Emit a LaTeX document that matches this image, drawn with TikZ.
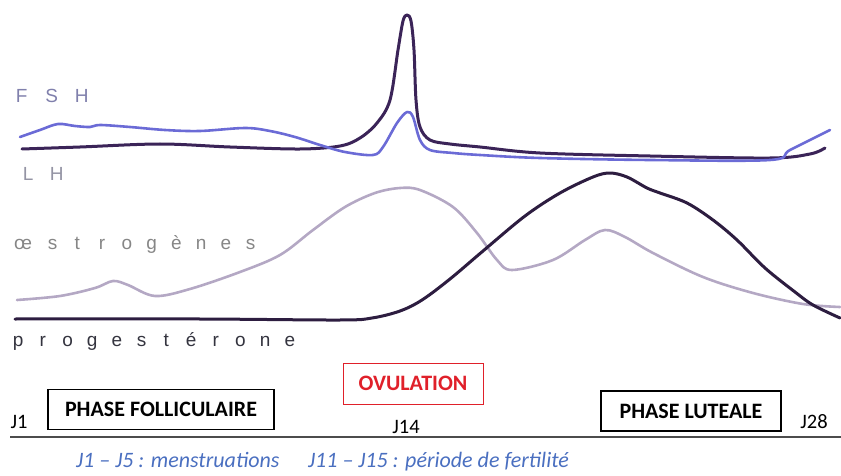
\documentclass[tikz,border=0pt]{standalone}
\usepackage{fontspec}
\setmainfont{Carlito}
\newfontfamily\labfont{Liberation Sans}
\definecolor{lhcol}{HTML}{3B2458}
\definecolor{fshcol}{HTML}{6B6BD6}
\definecolor{oecol}{HTML}{B4A8C4}
\definecolor{procol}{HTML}{2D1D40}
\definecolor{fshlab}{HTML}{8080AC}
\definecolor{lhlab}{HTML}{9494A4}
\definecolor{oelab}{HTML}{868686}
\definecolor{prolab}{HTML}{34343F}
\definecolor{ovred}{HTML}{E0202A}
\definecolor{noteblue}{HTML}{4A6FC0}
\newcommand\lb[2]{\makebox[#1pt][c]{#2}}
\begin{document}
\begin{tikzpicture}[x=1pt,y=-1pt,
  curve/.style={line join=round,line cap=round},
  hlabel/.style={inner sep=0pt,anchor=base west,font=\labfont\fontsize{19}{21}\selectfont},
  phasebox/.style={draw=black,line width=1.2pt,minimum height=40pt,inner sep=0pt,font=\bfseries\fontsize{22}{24}\selectfont},
  daylab/.style={inner sep=0pt,anchor=base,font=\fontsize{20.5}{24}\selectfont},
  note/.style={inner sep=0pt,anchor=base west,text=noteblue,font=\itshape\fontsize{22}{24}\selectfont}]
\useasboundingbox (0,0) rectangle (841,476);
% LH
\draw[curve,lhcol,line width=3pt] plot[smooth,tension=0.55] coordinates {
 (22,149) (80,147) (160,144) (230,147) (300,149) (340,146) (360,138) (377,123)
 (390,100) (398,50) (403,21) (407,15) (411,21) (414,50) (416,100) (420,127)
 (430,140) (450,144) (480,147) (540,153) (650,156) (770,158) (810,154) (825,148)};
% FSH
\draw[curve,fshcol,line width=2.6pt] plot[smooth,tension=0.55] coordinates {
 (20,137) (40,130) (58,124) (75,126) (90,127) (100,125) (130,127) (165,130)
 (200,131) (245,128) (270,131) (295,137) (320,145) (345,152) (373,155) (383,147)
 (397,123) (407,112) (413,117) (420,140) (430,150) (453,153) (480,155) (540,158)
 (650,160) (770,160) (790,150) (830,130)};
% oestrogenes
\draw[curve,oecol,line width=2.6pt] plot[smooth,tension=0.55] coordinates {
 (17,300) (60,296) (95,288) (113,281) (128,285) (155,296) (190,289) (240,272)
 (280,255) (313,230) (345,207) (375,193) (400,188) (420,190) (453,207) (477,233)
 (497,260) (512,270) (553,260) (585,240) (605,230) (625,237) (653,253) (703,277)
 (753,293) (803,304) (840,307)};
% progesterone
\draw[curve,procol,line width=3pt] plot[smooth,tension=0.55] coordinates {
 (15,319) (200,319) (340,320) (372,318) (400,311) (422,300) (450,279) (483,251)
 (525,216) (560,193) (593,177) (610,173) (627,177) (647,188) (660,193) (687,203)
 (713,220) (737,240) (765,268) (795,292) (813,305) (840,318)};
% hormone labels
\node[hlabel,text=fshlab] (fsh) at (6.5,103) {\lb{30}{F}\lb{30}{S}\lb{30}{H}};
\node[hlabel,text=lhlab] (lh) at (13.75,180) {\lb{28.5}{L}\lb{28.5}{H}};
\node[hlabel,text=oelab] (oe) at (6,249) {\lb{34}{œ}\lb{24.75}{s}\lb{24.75}{t}\lb{24.75}{r}\lb{24.75}{o}\lb{24.75}{g}\lb{24.75}{è}\lb{24.75}{n}\lb{24.75}{e}\lb{24.75}{s}};
\node[hlabel,text=prolab] (pro) at (5.65,346) {\lb{24.7}{p}\lb{24.7}{r}\lb{24.7}{o}\lb{24.7}{g}\lb{24.7}{e}\lb{24.7}{s}\lb{24.7}{t}\lb{24.7}{é}\lb{24.7}{r}\lb{24.7}{o}\lb{24.7}{n}\lb{24.7}{e}};
% axis
\draw[line width=1.8pt,black!70] (10,437) -- (841,437);
% boxes
\node[phasebox,minimum width=226pt] (fol) at (161,409.5) {PHASE FOLLICULAIRE};
\node[phasebox,minimum width=180pt] (lut) at (691,411) {PHASE LUTEALE};
\node[phasebox,draw=ovred,text=ovred,minimum width=140pt,minimum height=41pt,line width=1pt] (ovu) at (413,383.5) {OVULATION};
% day labels
\node[daylab] (j1) at (19,428) {J1};
\node[daylab] (j14) at (406,433) {J14};
\node[daylab] (j28) at (814,428) {J28};
% notes
\node[note] (n1) at (76,467) {J1 – J5 : menstruations};
\node[note] (n2) at (308,467) {J11 – J15 : période de fertilité};
\end{tikzpicture}
\end{document}
